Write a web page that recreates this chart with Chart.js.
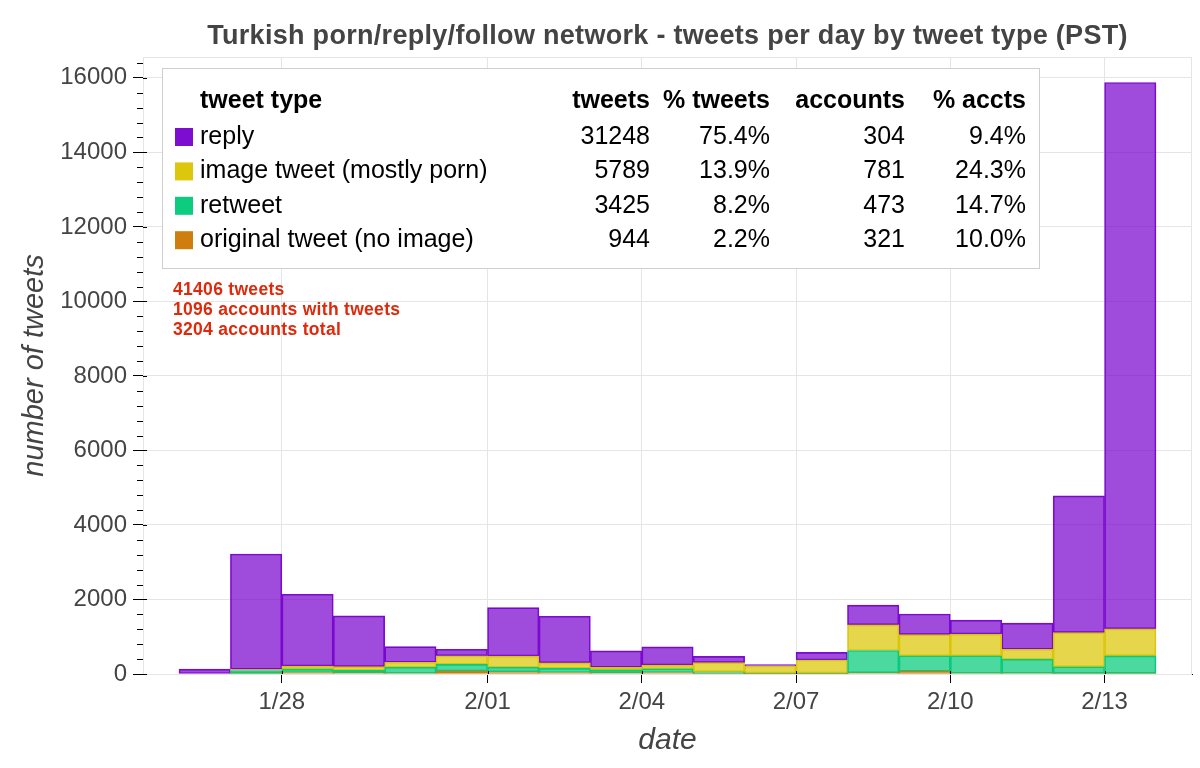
<!DOCTYPE html>
<html>
<head>
<meta charset="utf-8">
<script src="https://cdn.jsdelivr.net/npm/chart.js@4.4.1/dist/chart.umd.min.js"></script>
<style>
  html, body { margin: 0; padding: 0; background: #fff; }
</style>
</head>
<body>
<canvas id="myChart" width="1200" height="768"></canvas>
<script>
// data per day (PST), 1/26 .. 2/13
const days = ['1/26', '1/27', '1/28', '1/29', '1/30', '1/31', '2/01', '2/02', '2/03', '2/04',
              '2/05', '2/06', '2/07', '2/08', '2/09', '2/10', '2/11', '2/12', '2/13'];
const original = [0, 15, 40, 30, 20, 80, 60, 40, 30, 40, 15, 10, 10, 30, 70, 20, 20, 15, 15];
const retweet = [0, 80, 90, 70, 160, 180, 120, 110, 80, 100, 40, 15, 15, 600, 420, 470, 375, 180, 470];
const image = [0, 30, 80, 100, 135, 225, 300, 150, 70, 100, 250, 190, 350, 690, 565, 580, 270, 915, 725];
const reply = [130, 3095, 1930, 1360, 420, 180, 1300, 1250, 440, 490, 170, 35, 205, 530, 555, 375, 700, 3670, 14665];

// axis ticks: x ticks are day indexes (start of that day)
const xTicks = [2, 6, 9, 12, 15, 18];
const yTicks = [0, 2000, 4000, 6000, 8000, 10000, 12000, 14000, 16000];

// legend table
const legendTypes = ['reply', 'image tweet (mostly porn)', 'retweet', 'original tweet (no image)'];
const legendTweets = ['31248', '5789', '3425', '944'];
const legendPctTweets = ['75.4%', '13.9%', '8.2%', '2.2%'];
const legendAccounts = ['304', '781', '473', '321'];
const legendPctAccts = ['9.4%', '24.3%', '14.7%', '10.0%'];
const notes = ['41406 tweets', '1096 accounts with tweets', '3204 accounts total'];

const titleText = 'Turkish porn/reply/follow network - tweets per day by tweet type (PST)';

const colReply = [118, 0, 205];
const colImage = [218, 196, 0];
const colRetweet = [0, 201, 120];
const colOriginal = [204, 119, 0];
const rgba = (c, a) => `rgba(${c[0]}, ${c[1]}, ${c[2]}, ${a})`;

const FONT = '"Liberation Sans", Arial, Helvetica, sans-serif';

function series(label, values, col) {
    return {
        label: label,
        data: values.map((v, i) => ({ x: i + 0.5, y: v })),
        backgroundColor: rgba(col, 0.7),
        borderColor: rgba(col, 0.95),
        borderWidth: 1,
        borderSkipped: false,
        barPercentage: 1,
        categoryPercentage: 1
    };
}

const decorations = {
    id: 'decorations',
    beforeDatasetsDraw(chart) {
        const { ctx, chartArea: a } = chart;
        ctx.save();
        ctx.strokeStyle = '#e5e5e5';
        ctx.lineWidth = 1;
        ctx.strokeRect(a.left + 0.5, a.top + 0.5, a.right - a.left - 1, a.bottom - a.top);
        ctx.restore();
    },
    afterDraw(chart) {
        const { ctx, chartArea: a, scales } = chart;
        const y = scales.y, x = scales.x;
        ctx.save();

        // title
        ctx.fillStyle = '#444';
        ctx.font = 'bold 27px ' + FONT;
        ctx.letterSpacing = '0.3px';
        ctx.textAlign = 'center';
        ctx.textBaseline = 'alphabetic';
        ctx.fillText(titleText, (a.left + a.right) / 2, 44);
        ctx.letterSpacing = '0px';

        // minor ticks + inner major ticks
        ctx.strokeStyle = '#000';
        ctx.lineWidth = 1;
        ctx.beginPath();
        for (let v = 400; v < y.max; v += 400) {
            if (v % 2000 === 0) continue;
            const py = Math.round(y.getPixelForValue(v)) + 0.5;
            ctx.moveTo(a.left - 6, py);
            ctx.lineTo(a.left, py);
        }
        yTicks.forEach(v => {
            const py = Math.round(y.getPixelForValue(v)) + 0.5;
            ctx.moveTo(a.left, py);
            ctx.lineTo(a.left + 4, py);
        });
        xTicks.forEach(v => {
            const px = Math.round(x.getPixelForValue(v)) + 0.5;
            ctx.moveTo(px, a.bottom);
            ctx.lineTo(px, a.bottom - 3);
        });
        ctx.stroke();

        // legend box
        const bx = 162, by = 68, bw = 877, bh = 200;
        ctx.fillStyle = '#fff';
        ctx.fillRect(bx, by, bw, bh);
        ctx.strokeStyle = '#cfcfcf';
        ctx.strokeRect(bx + 0.5, by + 0.5, bw, bh);

        const colRight = [650, 770, 905, 1026];
        ctx.fillStyle = '#000';
        ctx.textBaseline = 'middle';
        ctx.font = 'bold 25px ' + FONT;
        ctx.textAlign = 'left';
        ctx.fillText('tweet type', 200, 101);
        ctx.textAlign = 'right';
        ['tweets', '% tweets', 'accounts', '% accts'].forEach((h, j) => ctx.fillText(h, colRight[j], 101));

        const swatches = [colReply, colImage, colRetweet, colOriginal];
        ctx.font = '25px ' + FONT;
        legendTypes.forEach((t, i) => {
            const ry = 137 + i * 34.4;
            ctx.fillStyle = rgba(swatches[i], 0.95);
            ctx.fillRect(175, ry - 9, 18, 18);
            ctx.fillStyle = '#000';
            ctx.textAlign = 'left';
            ctx.fillText(t, 200, ry);
            ctx.textAlign = 'right';
            [legendTweets[i], legendPctTweets[i], legendAccounts[i], legendPctAccts[i]]
                .forEach((s, j) => ctx.fillText(s, colRight[j], ry));
        });

        // red notes
        ctx.fillStyle = '#e0280a';
        ctx.font = 'bold 17.5px ' + FONT;
        ctx.letterSpacing = '0.3px';
        ctx.textAlign = 'left';
        notes.forEach((n, i) => ctx.fillText(n, 173, 290 + i * 20));
        ctx.letterSpacing = '0px';

        ctx.restore();
    }
};

const ctx = document.getElementById('myChart').getContext('2d');
const myChart = new Chart(ctx, {
    type: 'bar',
    data: {
        datasets: [
            series('original tweet (no image)', original, colOriginal),
            series('retweet', retweet, colRetweet),
            series('image tweet (mostly porn)', image, colImage),
            series('reply', reply, colReply)
        ]
    },
    options: {
        responsive: false,
        animation: false,
        devicePixelRatio: 1,
        layout: { padding: { left: 0, right: 8, top: 57, bottom: 0 } },
        plugins: {
            legend: { display: false },
            title: { display: false },
            tooltip: { enabled: false }
        },
        scales: {
            x: {
                type: 'linear',
                stacked: true,
                offset: false,
                min: -0.7,
                max: 19.7,
                afterBuildTicks: s => { s.ticks = xTicks.map(v => ({ value: v })); },
                afterFit: s => { s.height = 94; },
                grid: { color: '#e5e5e5', offset: false, tickColor: '#000', tickLength: 9 },
                border: { color: '#000', width: 1 },
                ticks: {
                    color: '#444',
                    font: { family: FONT, size: 24 },
                    padding: 5,
                    maxRotation: 0,
                    callback: v => days[v]
                },
                title: {
                    display: true,
                    text: 'date',
                    color: '#444',
                    font: { family: FONT, size: 30, style: 'italic' },
                    padding: { top: 0, bottom: 9 }
                }
            },
            y: {
                stacked: true,
                min: 0,
                max: 16560,
                afterBuildTicks: s => { s.ticks = yTicks.map(v => ({ value: v })); },
                afterFit: s => { s.width = 143; },
                grid: { color: '#e5e5e5', tickColor: '#000', tickLength: 10 },
                border: { color: '#000', width: 1 },
                ticks: {
                    color: '#444',
                    font: { family: FONT, size: 24 },
                    padding: 6,
                    callback: v => String(v)
                },
                title: {
                    display: true,
                    text: 'number of tweets',
                    color: '#444',
                    font: { family: FONT, size: 29, style: 'italic' },
                    padding: { top: 18, bottom: 0 }
                }
            }
        }
    },
    plugins: [decorations]
});
</script>
</body>
</html>
